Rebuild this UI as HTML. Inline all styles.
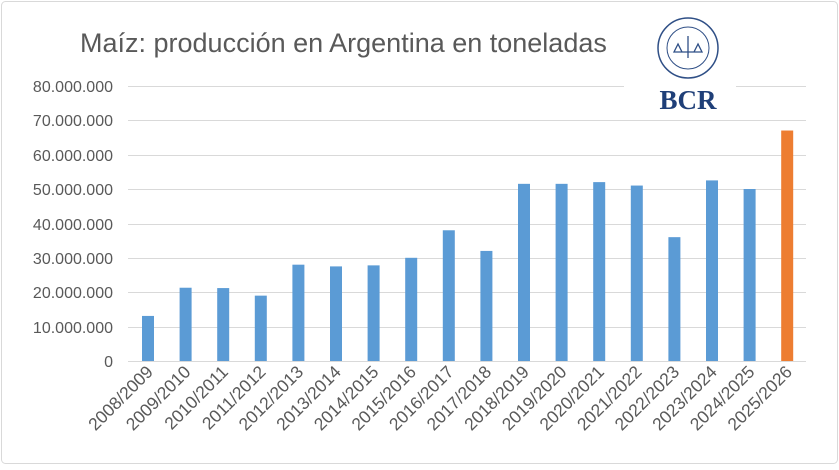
<!DOCTYPE html>
<html><head><style>
body{margin:0;background:#fff;}
</style></head><body>
<svg width="839" height="465" xmlns="http://www.w3.org/2000/svg" font-family="Liberation Sans, sans-serif">
<rect x="1.5" y="1.5" width="836" height="462" rx="4" fill="#fff" stroke="#d9d9d9"/>
<text x="80" y="52" font-size="27" fill="#595959">Maíz: producción en Argentina en toneladas</text>
<g stroke="#d9d9d9" stroke-width="1">
<line x1="128" x2="806" y1="86.5" y2="86.5"/>
<line x1="128" x2="806" y1="120.5" y2="120.5"/>
<line x1="128" x2="806" y1="155.5" y2="155.5"/>
<line x1="128" x2="806" y1="189.5" y2="189.5"/>
<line x1="128" x2="806" y1="224.5" y2="224.5"/>
<line x1="128" x2="806" y1="258.5" y2="258.5"/>
<line x1="128" x2="806" y1="292.5" y2="292.5"/>
<line x1="128" x2="806" y1="327.5" y2="327.5"/>
<line x1="128" x2="806" y1="361.5" y2="361.5"/>
</g>
<g font-size="16" fill="#595959" text-anchor="end">
<text x="113" y="92">80.000.000</text>
<text x="113" y="126">70.000.000</text>
<text x="113" y="161">60.000.000</text>
<text x="113" y="195">50.000.000</text>
<text x="113" y="230">40.000.000</text>
<text x="113" y="264">30.000.000</text>
<text x="113" y="298">20.000.000</text>
<text x="113" y="333">10.000.000</text>
<text x="113" y="367">0</text>
</g>
<g id="bars"></g>
<g id="labels" font-size="17.5" fill="#595959" text-anchor="end"></g>
<rect x="624" y="14" width="112" height="102" fill="#fff"/>
<circle cx="688" cy="48" r="30" fill="#fff" stroke="#2f4f86" stroke-width="1.5"/>
<circle cx="688" cy="48" r="21" fill="none" stroke="#2f4f86" stroke-width="1"/>
<path d="M676 52 h24 M688 36 v22 M678 44 l-4 8 h8 z M698 44 l-4 8 h8 z" stroke="#2f4f86" fill="none" stroke-width="1.3"/>
<text x="688" y="109" font-family="Liberation Serif, serif" font-size="27" font-weight="bold" fill="#1f3f78" text-anchor="middle">BCR</text>
<script>
var v=[13.1,21.3,21.2,19.0,28.0,27.5,27.8,30.0,38.0,32.0,51.5,51.5,52.0,51.0,36.0,52.5,50.0,67.0];
var lab=["2008/2009","2009/2010","2010/2011","2011/2012","2012/2013","2013/2014","2014/2015","2015/2016","2016/2017","2017/2018","2018/2019","2019/2020","2020/2021","2021/2022","2022/2023","2023/2024","2024/2025","2025/2026"];
var b=document.getElementById('bars'),l=document.getElementById('labels'),ns="http://www.w3.org/2000/svg";
for(var i=0;i<18;i++){var cx=148+i*37.6,h=v[i]*3.44;
var r=document.createElementNS(ns,'rect');r.setAttribute('x',cx-6);r.setAttribute('y',361-h);r.setAttribute('width',12);r.setAttribute('height',h);r.setAttribute('fill',i==17?'#ed7d31':'#5b9bd5');b.appendChild(r);
var t=document.createElementNS(ns,'text');t.setAttribute('transform','translate('+(cx+6)+',373) rotate(-45)');t.textContent=lab[i];l.appendChild(t);}
</script>
</svg>
</body></html>
